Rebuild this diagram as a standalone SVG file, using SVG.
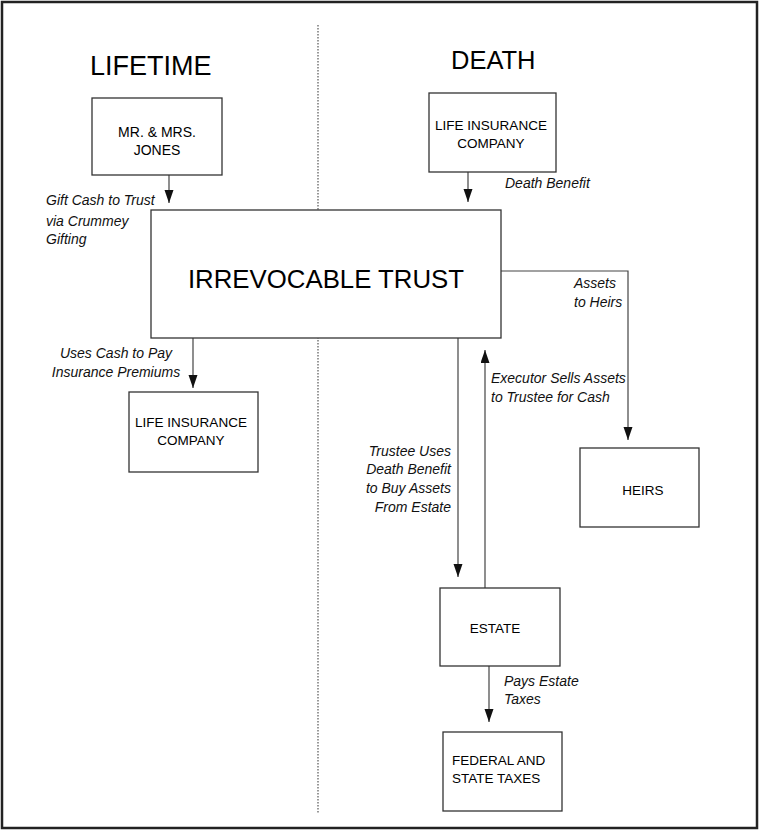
<svg xmlns="http://www.w3.org/2000/svg" width="759" height="830" viewBox="0 0 759 830">
<defs>
<style>
.frame{fill:#fff;stroke:#222;stroke-width:2.5}
.box{fill:#fff;stroke:#333;stroke-width:1.3}
.conn{fill:none;stroke:#444;stroke-width:1.2}
.div{stroke:#555;stroke-width:1.2;stroke-dasharray:1.5 1.5}
.head{font-family:"Liberation Sans",Arial,sans-serif;fill:#000}
.bt{font-family:"Liberation Sans",Arial,sans-serif;font-size:13.5px;fill:#000;text-anchor:middle}
.bl{font-family:"Liberation Sans",Arial,sans-serif;font-size:13.5px;fill:#000;text-anchor:start}
.lbl{font-family:"Liberation Sans",Arial,sans-serif;font-size:14px;font-style:italic;fill:#111}
</style>
<marker id="ah" markerUnits="userSpaceOnUse" markerWidth="14" markerHeight="10" refX="13" refY="4.5" orient="auto">
<path d="M0,0 L13,4.5 L0,9 z" fill="#111"/>
</marker>
</defs>
<rect class="frame" x="2" y="2" width="755" height="826"/>
<line class="div" x1="318" y1="25" x2="318" y2="813"/>
<text class="head" x="90" y="75" font-size="27">LIFETIME</text>
<text class="head" x="451" y="69" font-size="25.5">DEATH</text>

<g id="connectors">
<line class="conn" x1="169" y1="175" x2="169" y2="203" marker-end="url(#ah)"/>
<line class="conn" x1="468" y1="172" x2="468" y2="202" marker-end="url(#ah)"/>
<line class="conn" x1="193" y1="338" x2="193" y2="388" marker-end="url(#ah)"/>
<polyline class="conn" points="501,271 628,271 628,440" marker-end="url(#ah)"/>
<line class="conn" x1="458" y1="338" x2="458" y2="577" marker-end="url(#ah)"/>
<line class="conn" x1="485" y1="588" x2="485" y2="350" marker-end="url(#ah)"/>
<line class="conn" x1="489" y1="666" x2="489" y2="722" marker-end="url(#ah)"/>
<text class="lbl" x="46" y="205">Gift Cash to Trust</text>
<text class="lbl" x="46" y="226">via Crummey</text>
<text class="lbl" x="46" y="244">Gifting</text>
<text class="lbl" x="505" y="188">Death Benefit</text>
<text class="lbl" x="116" y="358" text-anchor="middle">Uses Cash to Pay</text>
<text class="lbl" x="116" y="377" text-anchor="middle">Insurance Premiums</text>
<text class="lbl" x="574" y="288">Assets</text>
<text class="lbl" x="574" y="307">to Heirs</text>
<text class="lbl" x="491" y="383">Executor Sells Assets</text>
<text class="lbl" x="491" y="402">to Trustee for Cash</text>
<text class="lbl" x="451" y="456" text-anchor="end">Trustee Uses</text>
<text class="lbl" x="451" y="474" text-anchor="end">Death Benefit</text>
<text class="lbl" x="451" y="493" text-anchor="end">to Buy Assets</text>
<text class="lbl" x="451" y="512" text-anchor="end">From Estate</text>
<text class="lbl" x="504" y="686">Pays Estate</text>
<text class="lbl" x="504" y="704">Taxes</text>
</g>

<g id="jones">
<rect class="box" x="92" y="98" width="130" height="77"/>
<text class="bt" x="157" y="137" style="font-size:14px">MR. &amp; MRS.</text>
<text class="bt" x="157" y="155" style="font-size:14px">JONES</text>
</g>
<g id="insurer-death">
<rect class="box" x="429" y="93" width="127" height="79"/>
<text class="bt" x="491" y="130">LIFE INSURANCE</text>
<text class="bt" x="491" y="148">COMPANY</text>
</g>
<g id="trust">
<rect class="box" x="151" y="210" width="350" height="128"/>
<text class="head" x="326" y="288" font-size="25.8" text-anchor="middle">IRREVOCABLE TRUST</text>
</g>
<g id="insurer-life">
<rect class="box" x="129" y="392" width="129" height="80"/>
<text class="bt" x="191" y="427">LIFE INSURANCE</text>
<text class="bt" x="191" y="445">COMPANY</text>
</g>
<g id="heirs">
<rect class="box" x="580" y="448" width="119" height="79"/>
<text class="bt" x="643" y="495">HEIRS</text>
</g>
<g id="estate">
<rect class="box" x="440" y="588" width="120" height="78"/>
<text class="bt" x="495" y="633">ESTATE</text>
</g>
<g id="taxes">
<rect class="box" x="443" y="732" width="119" height="79"/>
<text class="bl" x="452" y="765">FEDERAL AND</text>
<text class="bl" x="452" y="783">STATE TAXES</text>
</g>
</svg>
